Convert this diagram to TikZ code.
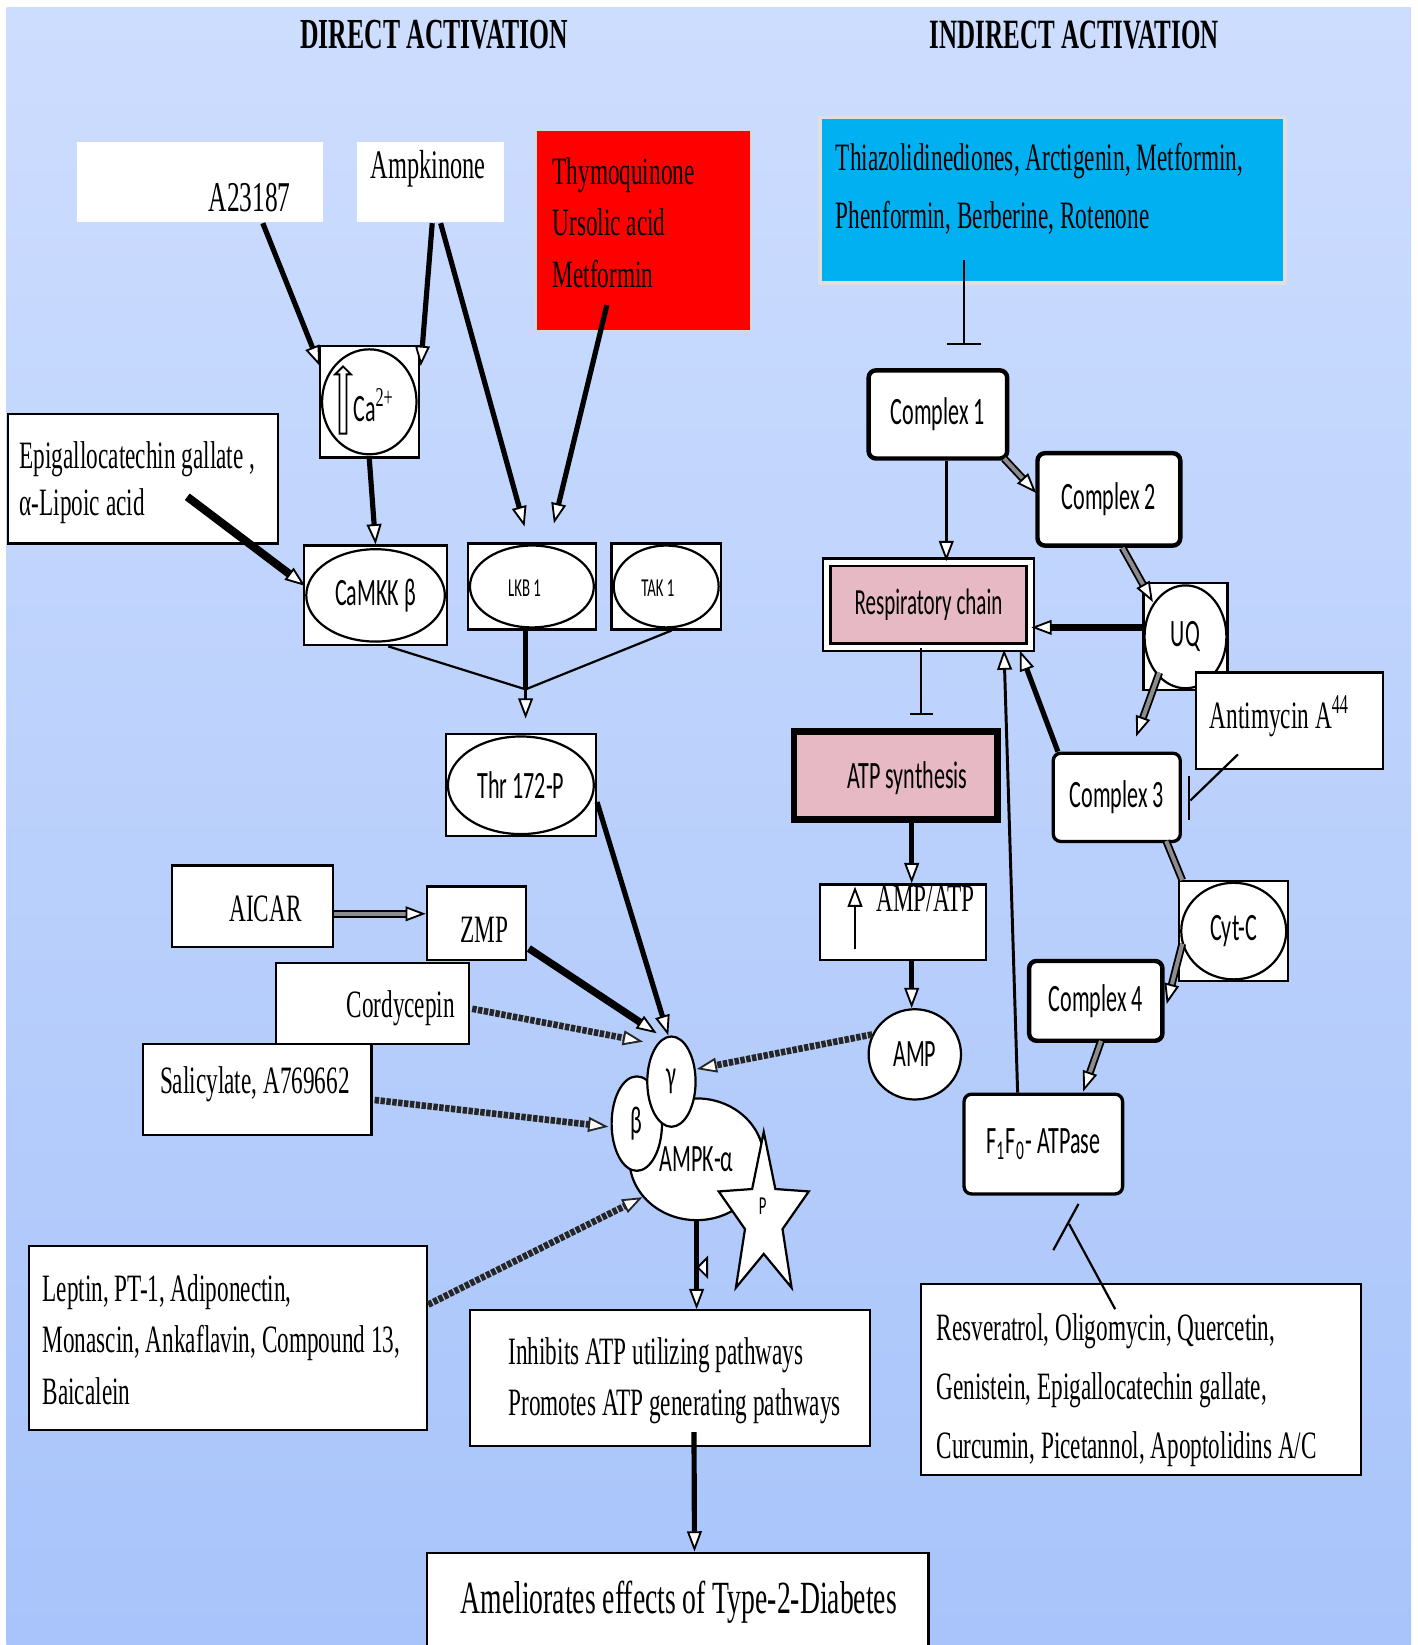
\documentclass[tikz,border=0pt]{standalone}
\usepackage{fontspec}
\setmainfont{Liberation Serif}
\newfontfamily\serifc[FakeStretch=0.6]{Liberation Serif}
\newfontfamily\sansc[FakeStretch=0.57]{Carlito}
\usepackage{tikz}
\usetikzlibrary{arrows.meta,positioning,calc,shapes.geometric,shapes.arrows}
\definecolor{skytop}{RGB}{205,221,254}
\definecolor{skybottom}{RGB}{168,196,250}
\definecolor{signalred}{RGB}{255,0,0}
\definecolor{oceanblue}{RGB}{0,176,240}
\definecolor{rosepink}{RGB}{230,185,196}

\tikzset{
  panel/.style={draw, fill=white, line width=0.6pt, inner sep=0pt},
  plain/.style={fill=white, inner sep=0pt},
  cplx/.style={panel, rounded corners=2pt, line width=1.2pt, font=\sansc\fontsize{10.5}{12}\selectfont},
  oval/.style={draw, ellipse, fill=white, inner sep=0pt, line width=0.6pt, font=\sansc\fontsize{10.5}{12}\selectfont},
  txt/.style={inner sep=0pt, font=\serifc\fontsize{10.5}{14}\selectfont},
  stxt/.style={inner sep=0pt, font=\sansc\fontsize{10.5}{12}\selectfont},
  head/.tip={Triangle[length=5.5pt, width=4pt, fill=white, line width=0.5pt]},
  link/.style={line width=0.9pt, -head},
  heavy/.style={link, line width=1.4pt},
  rope/.style={link, line width=1.8pt, draw=black!85, dash pattern=on 1.2pt off 0.4pt},
  twin/.style={draw=black, line width=0.5pt, double=black!45, double distance=1.1pt, -head},
  inhib/.style={line width=0.6pt, -{Bar[width=#1]}},
  inhib/.default=0.3cm
}

\begin{document}
\begin{tikzpicture}[x=0.01cm, y=-0.01cm]
\useasboundingbox (0,0) rectangle (1351,1568);
% backdrop
\fill[white] (0,0) rectangle (1351,1568);
\shade[top color=skytop, bottom color=skybottom] (6,7) rectangle (1345,1568);

% headings
\node[font=\serifc\bfseries\fontsize{11.6}{14}\selectfont] (dtitle) at (414,33) {DIRECT ACTIVATION};
\node[font=\serifc\bfseries\fontsize{11.3}{14}\selectfont] (ititle) at (1024,33) {INDIRECT ACTIVATION};

% direct activators
\node[plain, minimum width=2.35cm, minimum height=0.77cm] (a23) at (190.5,173.5) {};
\node[txt, font=\serifc\fontsize{11.5}{14}\selectfont] (a23t) at (238,188) {A23187};
\node[plain, minimum width=1.40cm, minimum height=0.77cm] (ampk) at (410,173.5) {};
\node[txt, font=\serifc\fontsize{11}{14}\selectfont] (ampkt) at (408,161) {Ampkinone};
\node[fill=signalred, draw=black!15, minimum width=2.05cm, minimum height=1.91cm] (thymo) at (613.5,219.5) {};
\node[txt, anchor=west, align=left] (thymot) at (526,212) {Thymoquinone\\Ursolic acid\\Metformin};

\node[panel, minimum width=0.94cm, minimum height=1.06cm] (cabox) at (352,383) {};
\node[oval, minimum width=0.90cm, minimum height=1.00cm] (ca) at (352,383) {};
\node[single arrow, draw, fill=white, rotate=90, line width=0.5pt, minimum height=0.64cm,
  inner sep=0.7pt, single arrow head extend=1.2pt] (caup) at (327,383) {};
\node[stxt, anchor=west] (cat) at (336,386) {Ca\textsuperscript{\serifc 2+}};

\node[panel, minimum width=2.57cm, minimum height=1.23cm] (egcg) at (136.5,456.5) {};
\node[txt, anchor=west, align=left, font=\serifc\fontsize{10.5}{12.8}\selectfont] (egcgt) at (18,460)
  {Epigallocatechin gallate ,\\α-Lipoic acid};

% upstream kinases
\node[panel, minimum width=1.36cm, minimum height=0.95cm] (camkkbox) at (358,567.5) {};
\node[oval, minimum width=1.32cm, minimum height=0.88cm] (camkk) at (358,567.5) {CaMKK β};
\node[panel, minimum width=1.22cm, minimum height=0.82cm] (lkbbox) at (507,559) {};
\node[oval, minimum width=1.18cm, minimum height=0.78cm] (lkb) at (507,559) {};
\node[font=\sansc\fontsize{7}{8}\selectfont, inner sep=0pt] (lkbt) at (500,561) {LKB 1};
\node[panel, minimum width=1.04cm, minimum height=0.82cm] (takbox) at (635,559) {};
\node[oval, minimum width=1.00cm, minimum height=0.78cm] (tak) at (635,559) {};
\node[font=\sansc\fontsize{7}{8}\selectfont, inner sep=0pt] (takt) at (627,561) {TAK 1};
\node[panel, minimum width=1.43cm, minimum height=0.97cm] (thrbox) at (496.5,748.5) {};
\node[oval, minimum width=1.39cm, minimum height=0.93cm] (thr) at (496.5,748.5) {Thr 172-P};

% AMP mimetics and others
\node[panel, minimum width=1.53cm, minimum height=0.78cm] (aicar) at (240.5,864) {};
\node[txt] (aicart) at (253,866) {AICAR};
\node[panel, minimum width=0.94cm, minimum height=0.70cm] (zmp) at (454,880) {};
\node[txt] (zmpt) at (462,886) {ZMP};
\node[panel, minimum width=1.84cm, minimum height=0.77cm] (cordy) at (355,956.5) {};
\node[txt] (cordyt) at (382,961) {Cordycepin};
\node[panel, minimum width=2.18cm, minimum height=0.87cm] (salic) at (245,1038.5) {};
\node[txt] (salict) at (243,1033) {Salicylate, A769662};
\node[panel, minimum width=3.79cm, minimum height=1.75cm] (leptin) at (217.5,1275.5) {};
\node[txt, anchor=west, align=left, font=\serifc\fontsize{10.5}{13.9}\selectfont] (leptint) at (40,1277)
  {Leptin, PT-1, Adiponectin,\\Monascin, Ankaflavin, Compound 13,\\Baicalein};

% AMPK complex
\node[oval, minimum width=1.28cm, minimum height=1.16cm] (alpha) at (664,1105) {AMPK-α};
\node[oval, minimum width=0.48cm, minimum height=0.90cm] (beta) at (607,1071) {β};
\node[oval, minimum width=0.46cm, minimum height=0.86cm] (gam) at (640,1031) {γ};
\node[star, star points=5, star point ratio=2.4, draw, fill=white, line width=0.6pt,
  minimum size=1.64cm, inner sep=0pt, xscale=0.55, transform shape] (pstar) at (728,1161) {};
\node[font=\sansc\fontsize{7}{8}\selectfont, inner sep=0pt] (pt) at (727,1150) {P};

% outcomes
\node[panel, minimum width=3.81cm, minimum height=1.29cm] (inh) at (638.5,1313.5) {};
\node[txt, anchor=west, align=left, font=\serifc\fontsize{10.5}{13.7}\selectfont] (inht) at (484,1316)
  {Inhibits ATP utilizing pathways\\Promotes ATP generating pathways};
\node[panel, minimum width=4.78cm, minimum height=1.0cm] (amel) at (646,1530) {};
\node[txt, font=\serifc\fontsize{12.5}{15}\selectfont] (amelt) at (647,1527) {Ameliorates effects of Type-2-Diabetes};

% indirect activators
\node[fill=oceanblue, draw=white!75!gray, line width=1pt, minimum width=4.43cm, minimum height=1.58cm] (tzd) at (1003.5,191) {};
\node[txt, anchor=west, align=left, font=\serifc\fontsize{10.5}{15.6}\selectfont] (tzdt) at (796,180)
  {Thiazolidinediones, Arctigenin, Metformin,\\Phenformin, Berberine, Rotenone};

\node[cplx, minimum width=1.32cm, minimum height=0.84cm] (cx1) at (894,395) {Complex 1};
\node[cplx, minimum width=1.36cm, minimum height=0.88cm] (cx2) at (1057,476) {Complex 2};
\node[panel, fill=rosepink, double, double distance=1.5pt, minimum width=1.94cm, minimum height=0.81cm,
  font=\sansc\fontsize{10}{12}\selectfont] (resp) at (885,576.5) {Respiratory chain};
\node[panel, minimum width=0.80cm, minimum height=1.02cm] (uqbox) at (1130,607) {};
\node[oval, minimum width=0.78cm, minimum height=0.98cm] (uq) at (1130,607) {UQ};
\node[panel, minimum width=1.78cm, minimum height=0.92cm] (antim) at (1229,687) {};
\node[txt] (antimt) at (1220,683) {Antimycin A\textsuperscript{44}};
\node[cplx, line width=0.9pt, minimum width=1.21cm, minimum height=0.84cm] (cx3) at (1064.5,760) {Complex 3};
\node[panel, fill=rosepink, line width=1.8pt, minimum width=1.94cm, minimum height=0.84cm] (atps) at (854,739) {};
\node[stxt] (atpst) at (865,742) {ATP synthesis};
\node[panel, minimum width=1.58cm, minimum height=0.72cm] (ampatp) at (861,879) {};
\node[txt] (ampatpt) at (882,857) {AMP/ATP};
\coordinate (risetail) at (815,905);
\coordinate (risehead) at (815,845);
\node[oval, minimum width=0.88cm, minimum height=0.86cm] (amp) at (872,1005) {AMP};
\node[panel, minimum width=1.04cm, minimum height=0.95cm] (cytcbox) at (1176,887.5) {};
\node[oval, minimum width=1.00cm, minimum height=0.92cm] (cytc) at (1176,887.5) {Cyt-C};
\node[cplx, minimum width=1.27cm, minimum height=0.76cm] (cx4) at (1044.5,954) {Complex 4};
\node[cplx, line width=0.9pt, minimum width=1.51cm, minimum height=0.95cm] (f1f0) at (994.5,1090.5)
  {F\textsubscript{1}F\textsubscript{0}- ATPase};
\node[panel, minimum width=4.19cm, minimum height=1.82cm] (resv) at (1087.5,1315) {};
\node[txt, anchor=west, align=left, font=\serifc\fontsize{10.5}{15.9}\selectfont] (resvt) at (892,1325)
  {Resveratrol, Oligomycin, Quercetin,\\Genistein, Epigallocatechin gallate,\\Curcumin, Picetannol, Apoptolidins A/C};

% direct activation links
\draw[heavy] ($(a23.south)+(60,0)$) -- ($(cabox.north west)+(1,20)$);
\draw[heavy] ($(ampk.south)+(2,0)$) -- ($(cabox.north east)+(1,20)$);
\draw[heavy] ($(ampk.south)+(10,0)$) -- ($(lkbbox.north)+(-7,-15)$);
\draw[heavy] ($(thymo.south)+(-35,-25)$) -- ($(lkbbox.north)+(21,-18)$);
\draw[heavy] (cabox.south) -- (camkkbox.north);
\draw[heavy, line width=2.2pt] ($(egcg.center)+(42,17)$) -- ($(camkkbox.west)+(2,-9)$);
\coordinate (fork) at ($(lkbbox.south)+(-6,56)$);
\draw[line width=0.6pt] ($(camkkbox.south)+(12,0)$) -- (fork) -- ($(takbox.south)+(5,0)$);
\draw[line width=1.4pt] ($(lkbbox.south)+(-6,0)$) -- (fork);
\draw[link, line width=0.6pt] (fork) -- ($(thrbox.north)+(4.5,-14)$);
\draw[heavy] ($(thrbox.east)+(0,16)$) -- ($(gam.north)+(-3,0)$);
\draw[twin] ($(aicar.east)+(0,7)$) -- ($(zmp.west)+(0,-9)$);
\draw[heavy, line width=2pt] ($(zmp.south east)+(2,-12)$) -- ($(gam.north)+(-14,-2)$);
\draw[rope] ($(cordy.east)+(2,5)$) -- ($(gam.north)+(-27,6)$);
\draw[rope] ($(salic.east)+(2,10)$) -- ($(beta.west)+(-2,3)$);
\draw[rope] ($(leptin.east)+(0,-32)$) -- (alpha.215);
\draw[rope] (amp.155) -- ($(gam.east)+(0,-12)$);
\draw[heavy] (alpha.south) -- (alpha.south |- inh.north);
\draw[fill=white, line width=0.5pt] (674,1199) -- (665,1208) -- (674,1217) -- cycle;
\draw[heavy] ($(inh.south)+(23,-14)$) -- ($(amel.north)+(16,0)$);

% indirect activation links
\draw[inhib=0.33cm] ($(tzd.south)+(-84.5,-24)$) -- ($(cx1.north)+(25,-22)$);
\draw[twin] ($(cx1.south east)+(-5,-2)$) -- ($(cx2.west)+(1,-6)$);
\draw[link] ($(cx1.south)+(8,0)$) -- ($(resp.north)+(17,0)$);
\draw[twin] ($(cx2.south)+(13,0)$) -- ($(uqbox.north west)+(10,19)$);
\draw[heavy, line width=2pt] ($(uqbox.west)+(0,-9)$) -- ($(resp.east)+(0,21.5)$);
\coordinate (uqout) at (1083,702);
\draw[twin] ($(uqbox.south)+(-25,-18)$) -- (uqout);
\draw[line width=0.6pt] ($(antim.south)+(-49,-15)$) -- ($(cx3.east)+(8,3)$);
\draw[line width=0.6pt] ($(cx3.east)+(7,-20)$) -- ($(cx3.east)+(7,22)$);
\draw[heavy] ($(cx3.north west)+(6,0)$) -- ($(resp.south east)+(-11,2)$);
\draw[twin, -] ($(cx3.south east)+(-15,-2)$) -- ($(cytcbox.north west)+(4,0)$);
\draw[twin] ($(cytcbox.west)+(4,12)$) -- ($(cx4.east)+(2,3)$);
\draw[twin] ($(cx4.south)+(5,-2)$) -- ($(f1f0.north)+(38,-1)$);
\draw[link, line width=0.8pt] ($(f1f0.north)+(-24.5,0)$) -- ($(resp.south)+(72,1)$);
\draw[inhib=0.22cm] ($(resp.south)+(-7,0)$) -- ($(atps.north)+(24,-12)$);
\draw[heavy] ($(atps.south)+(15,0)$) -- ($(ampatp.north)+(8,0)$);
\draw[link, line width=0.7pt] (risetail) -- (risehead);
\draw[heavy] ($(ampatp.south)+(8,0)$) -- ($(amp.north)+(-3,0)$);
\draw[line width=0.6pt] ($(resv.north)+(-24.5,25)$) -- ($(f1f0.south)+(24.5,27)$);
\draw[line width=0.6pt] ($(f1f0.south)+(9.5,52)$) -- ($(f1f0.south)+(33.5,8)$);
\end{tikzpicture}
\end{document}
